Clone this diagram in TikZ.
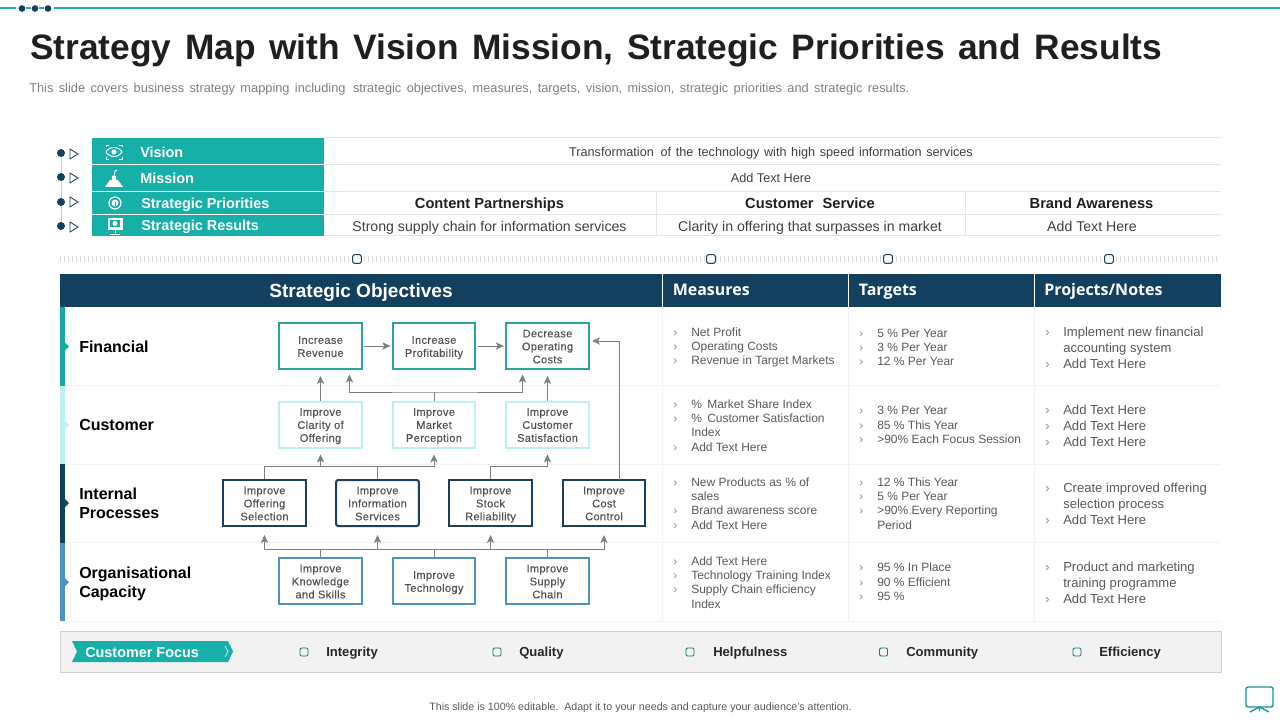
\documentclass[tikz,border=0pt]{standalone}
\usepackage{fontspec}
\setmainfont{Liberation Sans}
\newfontfamily\boxfont[LetterSpace=3,FakeBold=0.25]{Liberation Sans}
\newfontfamily\headfont{Open Sans}
\usetikzlibrary{arrows.meta}
\definecolor{teal1}{HTML}{17B0A8}
\definecolor{navy1}{HTML}{14405F}
\definecolor{navy2}{HTML}{1C3F5A}
\definecolor{bteal}{HTML}{2BA39B}
\definecolor{bcyan}{HTML}{BDF0EE}
\definecolor{bblue}{HTML}{4F94C0}
\definecolor{arrgray}{HTML}{7F7F7F}
\definecolor{linegray}{HTML}{E6E6E6}
\definecolor{softgray}{HTML}{F2F2F2}
\definecolor{txtgray}{HTML}{595959}
\newcommand{\fs}[2]{\fontsize{#1}{#2}\selectfont}
\newcommand{\ws}[1]{\spaceskip #1\relax}
\newcommand{\itm}[2]{\makebox[#1][l]{\textcolor{black!45}{›}}#2}
\newcommand{\cnt}[2]{\makebox[#1][l]{}#2}
\newcommand{\tp}{\rule{0pt}{8.3pt}}
\newcommand{\dpr}{\rule[-1.8pt]{0pt}{1pt}}
\newcommand{\bx}[1]{\tp#1\dpr}
\tikzset{
  x=0.75pt,y=-0.75pt,
  objbox/.style={draw,line width=1.5pt,fill=white,minimum width=62pt,minimum height=34.5pt,inner sep=0pt,align=center,text=black!68,font=\boxfont\fs{8.3}{9.75}},
  arr/.style={arrgray,line width=0.75pt,-{Stealth[length=6pt,width=5.5pt,inset=1.5pt]}},
  arrb/.style={arrgray,line width=0.75pt,{Stealth[length=6pt,width=5.5pt,inset=1.5pt]}-{Stealth[length=6pt,width=5.5pt,inset=1.5pt]}},
  stem/.style={arrgray,line width=0.75pt},
  tealtxt/.style={anchor=west,text=white,font=\bfseries\fs{10.8}{12},inner sep=0pt,text height=7.8pt,text depth=0pt},
  celltxt/.style={text=black!75,inner sep=0pt,font=\fs{9.5}{11}\ws{3.5pt},text height=6.9pt,text depth=0pt},
  plaincell/.style={text=black!75,inner sep=0pt,font=\fs{10.6}{12},text height=7.6pt,text depth=0pt},
  boldcell/.style={text=black!88,inner sep=0pt,font=\bfseries\fs{11}{12},text height=7.9pt,text depth=0pt},
  rowlabel/.style={anchor=west,align=left,text=black,inner sep=0pt,font=\bfseries\fs{12}{14.3}},
  listm/.style={anchor=west,align=left,text=txtgray,inner sep=0pt,font=\fs{9}{10.75}},
  listp/.style={anchor=west,align=left,text=txtgray,inner sep=0pt,font=\fs{9.8}{12}},
  headtxt/.style={anchor=west,text=white,inner sep=0pt,font=\headfont\bfseries\fs{12}{14},text height=8.6pt,text depth=0pt},
  hline/.style={linegray,line width=0.75pt},
  faint/.style={softgray,line width=0.75pt},
  smallsq/.style={draw=navy2,fill=white,line width=0.8pt,rounded corners=1.5pt,minimum size=6.5pt,inner sep=0pt},
  focussq/.style={draw=teal1!70!black,fill=softgray,line width=0.7pt,rounded corners=1pt,minimum size=6pt,inner sep=0pt},
  focustxt/.style={anchor=west,text=black!85,inner sep=0pt,font=\bfseries\fs{9.8}{12},text height=7pt,text depth=0pt},
  dot/.style={circle,fill=navy1,inner sep=0pt,minimum size=6pt},
  tri/.style={draw=navy2,line width=0.6pt,fill=white},
  ico/.style={white,line width=0.7pt},
}
\begin{document}
\begin{tikzpicture}
\useasboundingbox (0,0) rectangle (1280,720);
% top rule
\draw[teal1,line width=1.5pt] (0,8.5) -- (1280,8.5);
\foreach \n/\xx in {a/22,b/35,c/48}{
  \node[circle,fill=white,minimum size=9pt,inner sep=0pt] (bg\n) at (\xx,8.5) {};
  \node[dot,minimum size=5pt] (top\n) at (\xx,8.5) {};
}
\draw[teal1,line width=1.5pt] (topa) -- (topb) (topb) -- (topc);
% title
\node[anchor=base west,inner sep=0pt,text=black!88,font=\bfseries\fs{26.5}{30}\ws{10.1pt}] (title) at (30,60) {Strategy Map with Vision Mission, Strategic Priorities and Results};
\node[anchor=base west,inner sep=0pt,text=black!50,font=\fs{9.6}{11}\ws{4.05pt}] (sub) at (29,92.5) {This slide covers business strategy mapping including\, strategic objectives, measures, targets, vision, mission, strategic priorities and strategic results.};
% top table lines
\foreach \yy in {138,164.5,191.5,214.5,236}{\draw[hline] (323,\yy) -- (1221,\yy);}
\draw[hline] (656,191.5) -- (656,236);
\draw[hline] (965,191.5) -- (965,236);
\fill[teal1] (92,138) rectangle (323.5,164);
\fill[teal1] (92,165) rectangle (323.5,191);
\fill[teal1] (92,192) rectangle (323.5,214);
\fill[teal1] (92,215) rectangle (323.5,236);
\node[tealtxt] (tv) at (140,152) {Vision};
\node[tealtxt] (tm) at (140,178) {Mission};
\node[tealtxt] (tp) at (141,203) {Strategic Priorities};
\node[tealtxt] (tr) at (141,225) {Strategic Results};
% timeline
\node[dot] (d1) at (61,153) {};
\node[dot] (d2) at (61,177) {};
\node[dot] (d3) at (61,202) {};
\node[dot] (d4) at (61,226) {};
\draw[black!20,line width=0.6pt] (d1) -- (d2) (d2) -- (d3) (d3) -- (d4);
\foreach \yy in {154,178,202,227}{\draw[tri] (70,\yy-5) -- (78,\yy) -- (70,\yy+5) -- cycle;}
% icons
\draw[ico] (114,147.5) .. controls (118,147.5) and (121,150) .. (122,152) .. controls (121,154) and (118,156.5) .. (114,156.5) .. controls (110,156.5) and (107,154) .. (106,152) .. controls (107,150) and (110,147.5) .. (114,147.5) -- cycle;
\fill[white] (114,152) circle[radius=2.6];
\draw[ico,line width=0.5pt] (106,147) -- (106,145) -- (109,145) (119,145) -- (122,145) -- (122,147) (122,157) -- (122,159) -- (119,159) (109,159) -- (106,159) -- (106,157);
\fill[white] (105,187) -- (110,180) -- (112,180) -- (112,176) -- (116,176) -- (116,180) -- (118,180) -- (123,187) -- cycle;
\draw[ico] (114,176) -- (115,171) -- (117,170);
\draw[ico,line width=0.9pt] (115,203) circle[radius=6];
\fill[white] (115,203) circle[radius=3.4];
\fill[teal1] (114.5,202) rectangle (115.5,206.5);
\fill[white] (107.5,218) rectangle (122.5,230);
\fill[teal1] (110,220) rectangle (120,227);
\fill[white] (115,223.5) circle[radius=2.5];
\draw[ico] (115,230) -- (115,233) (110,234) -- (120,234);
% top table text
\node[celltxt] (v1) at (771,151.5) {Transformation\, of the technology with high speed information services};
\node[plaincell,font=\fs{9.5}{11},text height=6.9pt] (m1) at (771,178) {Add Text Here};
\node[boldcell] (p1) at (489.5,203) {Content Partnerships};
\node[boldcell] (p2) at (810,203) {Customer\,\, Service};
\node[boldcell] (p3) at (1091.5,203) {Brand Awareness};
\node[plaincell] (r1) at (489.5,226) {Strong supply chain for information services};
\node[plaincell] (r2) at (810,226) {Clarity in offering that surpasses in market};
\node[plaincell] (r3) at (1092,226) {Add Text Here};
% hatched strip
\draw[black!15,line width=4.5pt,dash pattern=on 0.75pt off 2.25pt] (60,259) -- (1220,259);
\node[smallsq] (s1) at (357,259) {};
\node[smallsq] (s2) at (711,259) {};
\node[smallsq] (s3) at (888,259) {};
\node[smallsq] (s4) at (1109,259) {};
% main table
\fill[navy1] (60,274) rectangle (1220.5,307);
\draw[white,line width=0.9pt] (662.5,274) -- (662.5,307) (848.5,274) -- (848.5,307) (1034.5,274) -- (1034.5,307);
\node[text=white,inner sep=0pt,font=\bfseries\fs{14.3}{16},text height=10.3pt,text depth=0pt] (hs) at (361,290.5) {Strategic Objectives};
\node[headtxt] (hm) at (672.5,290) {Measures};
\node[headtxt] (ht) at (858.5,290) {Targets};
\node[headtxt] (hn) at (1044,290) {Projects/Notes};
\foreach \yy in {385.5,464,542.5,621}{\draw[faint] (60,\yy) -- (1220.5,\yy);}
\foreach \xx in {662.5,848.5,1034.5}{\draw[faint] (\xx,307) -- (\xx,621);}
\fill[teal1!95!black] (60,307) rectangle (65,385.5);
\fill[bcyan] (60,385.5) rectangle (65,464);
\fill[navy1] (60,464) rectangle (65,543);
\fill[bblue] (60,543) rectangle (65,621);
\fill[teal1!95!black] (65,342.5) -- (69,346.5) -- (65,350.5) -- cycle;
\fill[bcyan] (65,421) -- (69,425) -- (65,429) -- cycle;
\fill[navy1] (65,499) -- (69,503) -- (65,507) -- cycle;
\fill[bblue] (65,578) -- (69,582) -- (65,586) -- cycle;
\node[rowlabel] (lf) at (79,347) {Financial};
\node[rowlabel] (lc) at (79,425) {Customer};
\node[rowlabel] (li) at (79,503.5) {Internal\\Processes};
\node[rowlabel] (lo) at (79,583.5) {Organisational\\Capacity};
% objective boxes
\node[objbox,draw=bteal] (rev) at (320.5,346) {\bx{Increase\\Revenue}};
\node[objbox,draw=bteal] (prof) at (434,346) {\bx{Increase\\Profitability}};
\node[objbox,draw=bteal] (dec) at (547.5,346) {\bx{Decrease\\Operating\\Costs}};
\node[objbox,draw=bcyan] (clar) at (320.5,424.5) {\bx{Improve\\Clarity of\\Offering}};
\node[objbox,draw=bcyan] (mark) at (434,424.5) {\bx{Improve\\Market\\Perception}};
\node[objbox,draw=bcyan] (sat) at (547.5,424.5) {\bx{Improve\\Customer\\Satisfaction}};
\node[objbox,draw=navy2] (off) at (264.5,503) {\bx{Improve\\Offering\\Selection}};
\node[objbox,draw=navy2,rounded corners=1.5pt] (info) at (377.5,503) {\bx{Improve\\Information\\Services}};
\node[objbox,draw=navy2] (stock) at (490.5,503) {\bx{Improve\\Stock\\Reliability}};
\node[objbox,draw=navy2] (cost) at (604,503) {\bx{Improve\\Cost\\Control}};
\node[objbox,draw=bblue] (know) at (320.5,581) {\bx{Improve\\Knowledge\\and Skills}};
\node[objbox,draw=bblue] (tech) at (434,581) {\bx{Improve\\Technology}};
\node[objbox,draw=bblue] (sup) at (547.5,581) {\bx{Improve\\Supply\\Chain}};
% connectors
\draw[arr,shorten <=1pt,shorten >=1pt] (rev) -- (prof);
\draw[arr,shorten <=1pt,shorten >=1pt] (prof) -- (dec);
\draw[arr,shorten >=4.5pt] (clar.north) -- (rev.south);
\draw[arr,shorten >=4.5pt] (sat.north) -- (dec.south);
\coordinate (busA) at (434,392);
\coordinate (tipAL) at (349.5,374.5);
\coordinate (tipAR) at (522.5,374.5);
\draw[stem] (mark.north) -- (busA);
\draw[arrb] (tipAL) |- (busA) -| (tipAR);
\coordinate (busB) at (434,466.5);
\draw[arr,shorten >=4.5pt] (off.north) |- (busB) -- (mark.south);
\draw[stem] (info.north) -- (info.north|-busB);
\draw[arr,shorten >=4.5pt] (busB-|clar) -- (clar.south);
\coordinate (busS) at (547.5,466.5);
\draw[arr,shorten >=4.5pt] (stock.north) |- (busS) -- (sat.south);
\coordinate (costTop) at (619,480);
\coordinate (decPin) at (592,341);
\draw[arr] (costTop) |- (decPin);
\coordinate (busC) at (434,549);
\draw[arrb,shorten <=6pt,shorten >=6pt] (off.south) -- (off.south|-busC) -- (cost.south|-busC) -- (cost.south);
\draw[arr,shorten >=6pt] (info.south|-busC) -- (info.south);
\draw[arr,shorten >=6pt] (stock.south|-busC) -- (stock.south);
\draw[stem] (know.north) -- (know.north|-busC);
\draw[stem] (tech.north) -- (tech.north|-busC);
\draw[stem] (sup.north) -- (sup.north|-busC);
% measures
\node[listm] (me1) at (673,347.5) {\itm{13.5pt}{Net Profit}\\\itm{13.5pt}{Operating Costs}\\\itm{13.5pt}{Revenue in Target Markets}};
\node[listm] (me2) at (673,425.5) {\itm{13.5pt}{\%\, Market Share Index}\\\itm{13.5pt}{\%\, Customer Satisfaction}\\\cnt{13.5pt}{Index}\\\itm{13.5pt}{Add Text Here}};
\node[listm] (me3) at (673,503.3) {\itm{13.5pt}{New Products as \% of}\\\cnt{13.5pt}{sales}\\\itm{13.5pt}{Brand awareness score}\\\itm{13.5pt}{Add Text Here}};
\node[listm] (me4) at (673,582.3) {\itm{13.5pt}{Add Text Here}\\\itm{13.5pt}{Technology Training Index}\\\itm{13.5pt}{Supply Chain efficiency}\\\cnt{13.5pt}{Index}};
% targets
\node[listm] (ta1) at (859,347.5) {\itm{13.5pt}{5 \% Per Year}\\\itm{13.5pt}{3 \% Per Year}\\\itm{13.5pt}{12 \% Per Year}};
\node[listm] (ta2) at (859,425) {\itm{13.5pt}{3 \% Per Year}\\\itm{13.5pt}{85 \% This Year}\\\itm{13.5pt}{>90\% Each Focus Session}};
\node[listm] (ta3) at (859,503.3) {\itm{13.5pt}{12 \% This Year}\\\itm{13.5pt}{5 \% Per Year}\\\itm{13.5pt}{>90\% Every Reporting}\\\cnt{13.5pt}{Period}};
\node[listm] (ta4) at (859,582) {\itm{13.5pt}{95 \% In Place}\\\itm{13.5pt}{90 \% Efficient}\\\itm{13.5pt}{95 \%}};
% projects
\node[listp] (pr1) at (1045,347.5) {\itm{13.5pt}{Implement new financial}\\\cnt{13.5pt}{accounting system}\\\itm{13.5pt}{Add Text Here}};
\node[listp] (pr2) at (1045,425.5) {\itm{13.5pt}{Add Text Here}\\\itm{13.5pt}{Add Text Here}\\\itm{13.5pt}{Add Text Here}};
\node[listp] (pr3) at (1045,503.5) {\itm{13.5pt}{Create improved offering}\\\cnt{13.5pt}{selection process}\\\itm{13.5pt}{Add Text Here}};
\node[listp] (pr4) at (1045,582.5) {\itm{13.5pt}{Product and marketing}\\\cnt{13.5pt}{training programme}\\\itm{13.5pt}{Add Text Here}};
% customer focus band
\draw[fill=softgray,draw=black!18,line width=0.75pt] (60.5,631.5) rectangle (1221,672);
\fill[teal1] (72,641) -- (228,641) -- (233,651.5) -- (228,662) -- (72,662) -- (77,651.5) -- cycle;
\node[anchor=west,text=white,inner sep=0pt,font=\bfseries\fs{10.8}{12},text height=7.8pt,text depth=0pt] (cf) at (85,652) {Customer Focus};
\draw[white!70!teal1,line width=0.7pt] (225,646) -- (228,651.5) -- (225,657);
\node[focussq] (q1) at (304,652) {};
\node[focussq] (q2) at (497,652) {};
\node[focussq] (q3) at (690,652) {};
\node[focussq] (q4) at (883.5,652) {};
\node[focussq] (q5) at (1077,652) {};
\node[focustxt] (f1) at (326,651.5) {Integrity};
\node[focustxt] (f2) at (519,651.5) {Quality};
\node[focustxt] (f3) at (713,651.5) {Helpfulness};
\node[focustxt] (f4) at (906,651.5) {Community};
\node[focustxt] (f5) at (1099,651.5) {Efficiency};
% footer
\node[text=black!65,inner sep=0pt,font=\fs{8}{10},text height=5.8pt,text depth=0pt] (foot) at (640.5,707) {This slide is 100\% editable.\, Adapt it to your needs and capture your audience's attention.};
\draw[teal1!85!black,line width=1pt,rounded corners=1.5pt] (1246,687) rectangle (1273,707);
\draw[teal1!85!black,line width=1pt] (1259.5,707) -- (1250,712) (1259.5,707) -- (1269,712) (1259.5,707) -- (1259.5,711);
\end{tikzpicture}
\end{document}
